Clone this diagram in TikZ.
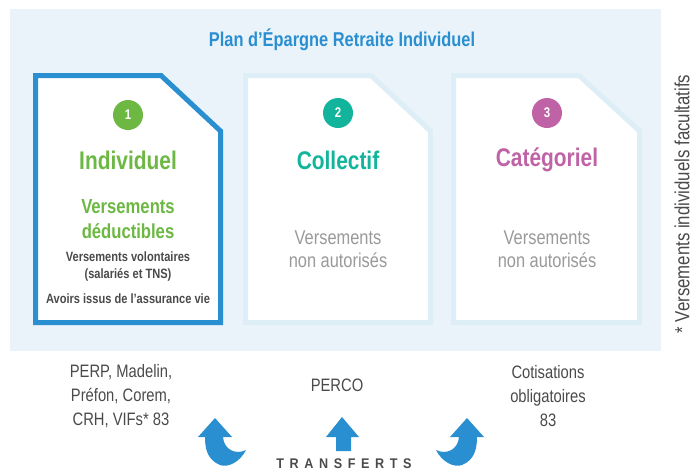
\documentclass[tikz,border=0pt]{standalone}
\usepackage{fontspec}
\setmainfont{Liberation Sans}[FakeStretch=0.82]
\newfontfamily\trfont{Liberation Sans}[FakeStretch=0.9,LetterSpace=40]
\definecolor{bg}{HTML}{EAF3FA}
\definecolor{cardline}{HTML}{DDEEF6}
\definecolor{pblue}{HTML}{2A8FD0}
\definecolor{pgreen}{HTML}{6DB843}
\definecolor{pteal}{HTML}{12B59C}
\definecolor{pmag}{HTML}{BF63A6}
\definecolor{pgray}{HTML}{9A9A9A}
\definecolor{pdark}{HTML}{4A4A4A}
\newcommand{\fsz}[2]{\fontsize{#1}{#2}\selectfont}
\begin{document}
\begin{tikzpicture}[x=1pt,y=-1pt,
  card/.style={fill=white,draw=cardline,line width=5pt,line join=miter},
  cardsel/.style={fill=white,draw=pblue,line width=5pt,line join=miter},
  num/.style={circle,fill=#1,text=white,minimum size=30pt,inner sep=0pt,font=\fsz{14}{16}\bfseries},
  ctitle/.style={text=#1,font=\fsz{25.5}{28}\bfseries,inner sep=0pt},
  grayt/.style={text=pgray,align=center,font=\fsz{20}{23}},
  bottomt/.style={text=pdark,align=center,font=\fsz{18}{24}},
  arr/.style={fill=pblue}]
\useasboundingbox (0,0) rectangle (698,472);
\fill[bg] (10,9) rectangle (661,351);
\node[text=pblue,font=\fsz{20}{22}\bfseries] (plan) at (342,40) {Plan d’Épargne Retraite Individuel};
% cards
\draw[cardsel] (35.5,75.5) -- (161,75.5) -- (220.5,131) -- (220.5,322.5) -- (35.5,322.5) -- cycle;
\draw[card] (245.5,75.5) -- (371,75.5) -- (430.5,131) -- (430.5,322.5) -- (245.5,322.5) -- cycle;
\draw[card] (453.5,75.5) -- (579,75.5) -- (639.5,131) -- (639.5,322.5) -- (453.5,322.5) -- cycle;
% card 1
\node[num=pgreen] (n1) at (128,115) {1};
\node[ctitle=pgreen] (t1) at (128,160) {Individuel};
\node[text=pgreen,align=center,font=\fsz{20.3}{25}\bfseries] (d1) at (128,219.5) {Versements\\déductibles};
\node[text=pdark,align=center,font=\fsz{13.5}{17}\bfseries] (v1) at (128,266.5) {Versements volontaires\\(salariés et TNS)};
\node[text=pdark,font=\fsz{13.5}{17}\bfseries] (a1) at (128,299) {Avoirs issus de l’assurance vie};
% card 2
\node[num=pteal] (n2) at (338,113) {2};
\node[ctitle=pteal] (t2) at (338,160) {Collectif};
\node[grayt] (g2) at (338,249.5) {Versements\\non autorisés};
% card 3
\node[num=pmag] (n3) at (547,113) {3};
\node[ctitle=pmag] (t3) at (547,160) {Catégoriel};
\node[grayt] (g3) at (547,249.5) {Versements\\non autorisés};
% side note
\node[rotate=90,text=pdark,font=\fsz{20.5}{22}] (note) at (682,204) {* Versements individuels facultatifs};
% bottom texts
\node[bottomt] (b1) at (121,396) {PERP, Madelin,\\Préfon, Corem,\\CRH, VIFs* 83};
\node[bottomt] (b2) at (337,385) {PERCO};
\node[bottomt] (b3) at (548,396) {Cotisations\\obligatoires\\83};
% arrows
\fill[arr] (198,437) -- (215,418) -- (232,437) -- (223,437)
  .. controls (224,450) and (236,455) .. (246,450)
  .. controls (240,462) and (228,468) .. (220,465)
  .. controls (208,460) and (205,450) .. (205,437) -- cycle;
\fill[arr] (326,437) -- (342,417) -- (359,437) -- (351,437) -- (351,451) -- (336,451) -- (336,437) -- cycle;
\fill[arr] (484,437) -- (467,418) -- (450,437) -- (459,437)
  .. controls (458,450) and (446,455) .. (436,450)
  .. controls (442,462) and (454,468) .. (462,465)
  .. controls (474,460) and (477,450) .. (477,437) -- cycle;
\node[text=pdark,font=\fsz{14}{16}\trfont\bfseries,inner sep=1pt] (tr) at (344,463.5) {TRANSFERTS};
\end{tikzpicture}
\end{document}
